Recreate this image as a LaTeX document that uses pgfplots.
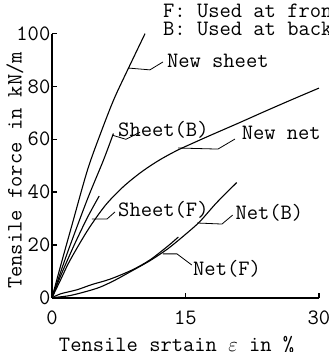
\documentclass[border=0pt]{standalone}
\usepackage{fontspec}
\usepackage{pgfplots}
\pgfplotsset{compat=1.18}
\newcommand{\lf}{\ttfamily\fontsize{22}{23}\selectfont}
\begin{document}
\begin{tikzpicture}
\path[use as bounding box] (-52bp,-54.3bp) rectangle (277bp,297.7bp);
\begin{axis}[
  at={(0,0)}, anchor=south west, scale only axis,
  width=267bp, height=264bp,
  xmin=0, xmax=30, ymin=0, ymax=100,
  axis x line=bottom, axis y line=left,
  axis line style={-, line width=2bp},
  xtick={0,15,30}, ytick={0,20,...,100},
  tick align=inside, major tick length=5bp,
  tick style={line width=1.5bp, black},
  /pgf/number format/assume math mode=true,
  ticklabel style={font=\lf},
  yticklabel style={inner sep=1.5bp},
  xticklabel style={inner sep=3bp, yshift=-10bp},
  clip=false,
]
\addplot[smooth, line width=1.1bp] coordinates {(0,0) (1,12.5) (2.2,27) (4,48.5) (5.6,63.5) (7,75.5) (8.6,87) (10.45,100)};
\addplot[smooth, line width=1.1bp] coordinates {(0,0) (1,10) (2,19.5) (4,37.5) (5.77,52) (6.9,62.2)};
\addplot[smooth, line width=1.1bp] coordinates {(0,0) (1,8.5) (2.5,20) (4,30.5) (5.3,38.5)};
\addplot[smooth, line width=1.1bp] coordinates {(0,0) (1,7) (2,14) (4,25.5) (6,35) (8,42) (10,47.5) (12,52) (14,55.7) (16,58.8) (18,61.8) (21,66.2) (24,70.7) (27,75.1) (30,79.4)};
\addplot[smooth, line width=1.1bp] coordinates {(0,0) (2,0.8) (4,2.5) (5.4,4) (7,6.5) (9,10.2) (11,14) (13,18.5) (15,24) (16.6,28.8) (18.5,36) (20.75,43.6)};
\addplot[smooth, line width=1.1bp] coordinates {(0,0) (1,1.5) (2.8,3) (4.5,5) (6.5,7) (9,10.5) (11,14.3) (13,19.5) (14.2,23)};

\draw[line width=0.8bp] (axis cs:8.54,87.0) -- (axis cs:11.0,86.3) -- (axis cs:12.47,89.3);
\node[anchor=west, inner sep=0pt, font=\lf] at (axis cs:12.9,89.7) {New sheet};
\draw[line width=0.8bp] (axis cs:6.74,61.6) -- (axis cs:8.3,60.0) -- (axis cs:9.89,62.7);
\node[anchor=west, inner sep=0pt, font=\lf] at (axis cs:7.42,63.5) {Sheet(B)};
\draw[line width=0.8bp] (axis cs:14.16,56.7) -- (axis cs:18.65,56.3) -- (axis cs:20.56,60.1);
\node[anchor=west, inner sep=0pt, font=\lf] at (axis cs:21.3,62.4) {New net};
\draw[line width=0.8bp] (axis cs:4.49,29.8) -- (axis cs:6.18,29.8) -- (axis cs:7.08,32.5);
\node[anchor=west, inner sep=0pt, font=\lf] at (axis cs:7.42,33.2) {Sheet(F)};
\draw[line width=0.8bp] (axis cs:16.3,28.3) -- (axis cs:19.1,27.9) -- (axis cs:20.3,31.3);
\node[anchor=west, inner sep=0pt, font=\lf] at (axis cs:20.6,32.1) {Net(B)};
\draw[line width=0.8bp] (axis cs:12.47,16.6) -- (axis cs:14.04,16.6) -- (axis cs:15.7,12.4);
\node[anchor=west, inner sep=0pt, font=\lf] at (axis cs:15.84,10.9) {Net(F)};
\node[anchor=west, inner sep=0pt, font=\lf] at (axis cs:12.47,108.6) {F: Used at front};
\node[anchor=west, inner sep=0pt, font=\lf] at (axis cs:12.47,101.9) {B: Used at back};
\node[inner sep=0pt, font=\lf] at (axis cs:14.0,-17.9) {Tensile srtain $\varepsilon$ in \%};
\node[inner sep=0pt, font=\lf, rotate=90] at (axis cs:-4.16,48.2) {Tensile force in kN/m};
\end{axis}
\end{tikzpicture}
\end{document}
